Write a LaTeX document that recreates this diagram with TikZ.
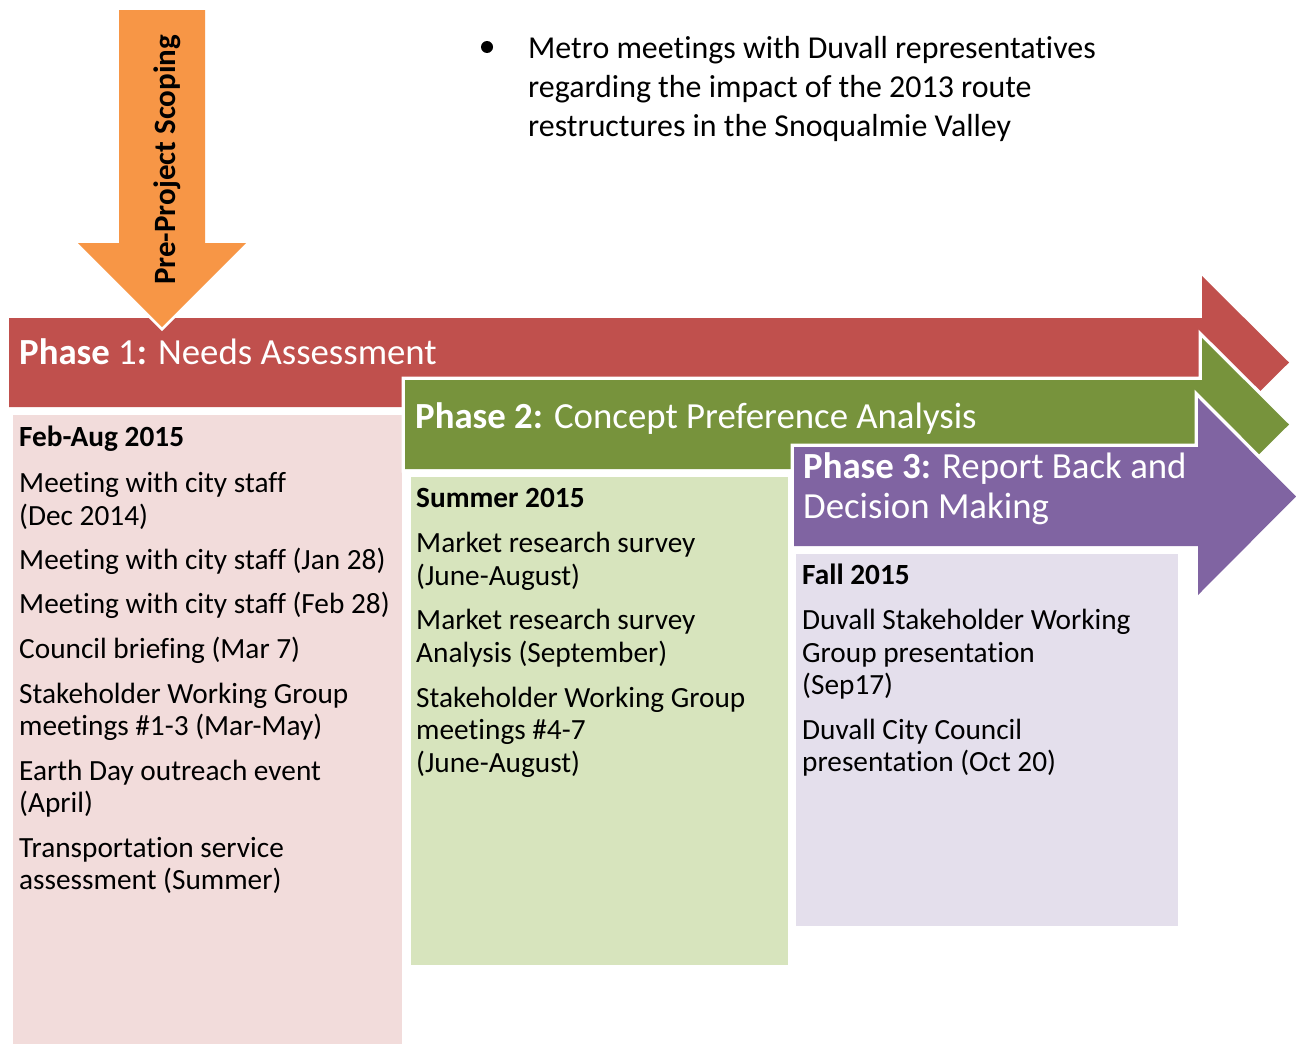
\documentclass[tikz,border=0pt]{standalone}
\usepackage{fontspec}
\setmainfont{Carlito}[Ligatures=NoCommon]
\definecolor{cred}{HTML}{C0504D}
\definecolor{cgreen}{HTML}{77933C}
\definecolor{cpurple}{HTML}{8064A2}
\definecolor{corange}{HTML}{F79646}
\definecolor{lpink}{HTML}{F2DCDB}
\definecolor{lgreen}{HTML}{D7E4BD}
\definecolor{lpurple}{HTML}{E4DFEC}
\tikzset{
  txt/.style={inner sep=0pt, anchor=base west, font=\fontsize{29.3}{33}\selectfont, text=black},
  hdr/.style={txt, font=\fontsize{29.3}{33}\selectfont\bfseries},
  ttl/.style={inner sep=0pt, anchor=base west, font=\fontsize{36.8}{40}\selectfont, text=white},
  bigtxt/.style={inner sep=0pt, anchor=base west, font=\fontsize{31.9}{39}\selectfont, text=black},
  arrowout/.style={draw=white, line width=7pt, line join=miter},
  boxst/.style={draw=white, line width=1pt},
}
\begin{document}
\begin{tikzpicture}[x=1pt,y=-1pt]
\useasboundingbox (0,0) rectangle (1296,1044);
\fill[white] (0,0) rectangle (1296,1044);
% Phase 1 arrow
\fill[cred] (9,318) -- (1202,318) -- (1202,276) -- (1289,362.5) -- (1202,449) -- (1202,407) -- (9,407) -- cycle;
\fill[lpink] (13,415) rectangle (402,1044);
% Phase 2 arrow
\draw[arrowout] (405,380) -- (1202,380) -- (1202,338) -- (1289,424.5) -- (1202,511) -- (1202,469) -- (405,469) -- cycle;
\fill[cgreen] (405,380) -- (1202,380) -- (1202,338) -- (1289,424.5) -- (1202,511) -- (1202,469) -- (405,469) -- cycle;
\filldraw[fill=lgreen, boxst] (410,476) rectangle (788,965);
% Phase 3 arrow
\draw[arrowout] (794,447) -- (1198,447) -- (1198,398) -- (1296,496.5) -- (1198,595) -- (1198,546) -- (794,546) -- cycle;
\fill[cpurple] (794,447) -- (1198,447) -- (1198,398) -- (1296,496.5) -- (1198,595) -- (1198,546) -- (794,546) -- cycle;
\filldraw[fill=lpurple, boxst] (795,553) rectangle (1178,926);
% Pre-project arrow
\draw[draw=white, line width=6pt, line join=miter] (119,10) -- (205,10) -- (205,243) -- (246,243) -- (162,327) -- (78,243) -- (119,243) -- cycle;
\fill[corange] (119,10) -- (205,10) -- (205,243) -- (246,243) -- (162,327) -- (78,243) -- (119,243) -- cycle;
\node[inner sep=0pt, anchor=base west, rotate=90, font=\fontsize{31}{33}\selectfont\bfseries] (pre) at (175,285) {Pre-Project Scoping};
% top bullet
\fill[black] (487,47) circle (6);
\node[bigtxt] (b1) at (528,58) {Metro meetings with Duvall representatives};
\node[bigtxt] (b2) at (528,97) {regarding the impact of the 2013 route};
\node[bigtxt] (b3) at (528,136) {restructures in the Snoqualmie Valley};
% titles
\node[ttl] (t1) at (19,364) {\textbf{Phase }1\textbf{:} Needs Assessment};
\node[ttl] (t2) at (415,428) {\textbf{Phase 2:} Concept Preference Analysis};
\node[ttl] (t3a) at (803,478) {\textbf{Phase 3:} Report Back and};
\node[ttl] (t3b) at (803,518) {Decision Making};
% pink box text
\node[hdr] (p0) at (19,446) {Feb-Aug 2015};
\node[txt] (p1) at (19,492) {Meeting with city staff};
\node[txt] (p2) at (19,525) {(Dec 2014)};
\node[txt] (p3) at (19,569) {Meeting with city staff (Jan 28)};
\node[txt] (p4) at (19,613) {Meeting with city staff (Feb 28)};
\node[txt] (p5) at (19,658) {Council briefing (Mar 7)};
\node[txt] (p6) at (19,703) {Stakeholder Working Group};
\node[txt] (p7) at (19,735) {meetings \#1-3 (Mar-May)};
\node[txt] (p8) at (19,780) {Earth Day outreach event};
\node[txt] (p9) at (19,812) {(April)};
\node[txt] (p10) at (19,857) {Transportation service};
\node[txt] (p11) at (19,889) {assessment (Summer)};
% green box text
\node[hdr] (g0) at (416,507) {Summer 2015};
\node[txt] (g1) at (416,552) {Market research survey};
\node[txt] (g2) at (416,585) {(June-August)};
\node[txt] (g3) at (416,629) {Market research survey};
\node[txt] (g4) at (416,662) {Analysis (September)};
\node[txt] (g5) at (416,707) {Stakeholder Working Group};
\node[txt] (g6) at (416,739) {meetings \#4-7};
\node[txt] (g7) at (416,772) {(June-August)};
% purple box text
\node[hdr] (u0) at (802,584) {Fall 2015};
\node[txt] (u1) at (802,629) {Duvall Stakeholder Working};
\node[txt] (u2) at (802,662) {Group presentation};
\node[txt] (u3) at (802,694) {(Sep17)};
\node[txt] (u4) at (802,739) {Duvall City Council};
\node[txt] (u5) at (802,771) {presentation (Oct 20)};
\end{tikzpicture}
\end{document}
